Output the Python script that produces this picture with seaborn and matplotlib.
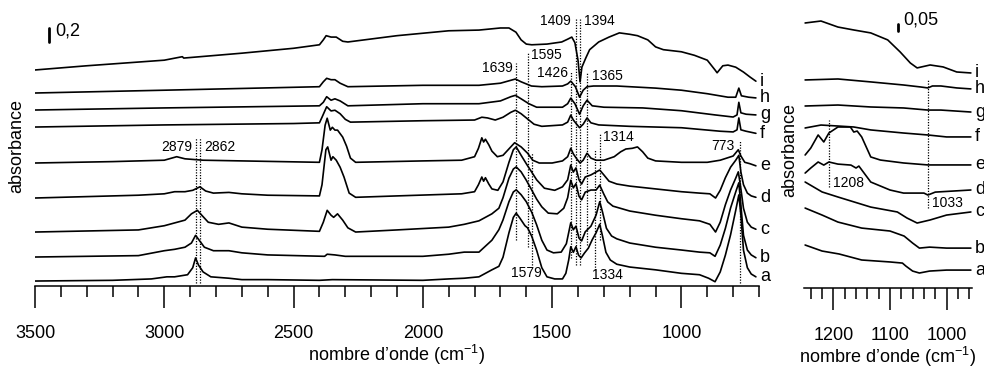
import numpy as np
import pandas as pd
import seaborn as sns
import matplotlib.pyplot as plt
from matplotlib.ticker import MultipleLocator

sns.set_theme(style="white")
plt.rcParams['font.family'] = ['Liberation Sans', 'DejaVu Sans']
plt.rcParams['mathtext.fontset'] = 'custom'
plt.rcParams['mathtext.rm'] = 'Liberation Sans'
plt.rcParams['text.color'] = 'black'
plt.rcParams['axes.labelcolor'] = 'black'
plt.rcParams['xtick.color'] = 'black'

names = list("abcdefghi")

# ---- full range spectra (absorbance, relative to the value at 3500 cm-1)
a_wn = [3500, 3200, 3050, 2990, 2960, 2910, 2890, 2879, 2868, 2850, 2820, 2750, 2700, 2600, 2400, 2350, 2000, 1900, 1840, 1783,
        1733, 1706, 1690, 1667, 1650, 1639, 1625, 1605, 1595, 1579, 1560, 1540, 1520, 1490, 1460, 1447, 1436, 1428, 1418, 1408,
        1398, 1388, 1375, 1360, 1345, 1330, 1316, 1305, 1292, 1275, 1250, 1200, 1100, 1000, 930, 895, 870, 850, 830, 810,
        790, 778, 770, 760, 745, 730, 712]
a_val = [0, 0.01, 0.03, 0.06, 0.06, 0.09, 0.19, 0.33, 0.23, 0.13, 0.06, 0.04, 0.02, 0.02, 0.01, 0.02, 0.01, 0.03, 0.04, 0.06,
         0.16, 0.21, 0.34, 0.69, 0.91, 0.97, 0.90, 0.79, 0.76, 0.64, 0.44, 0.19, 0.06, 0.03, 0.03, 0.11, 0.30, 0.49, 0.41, 0.49,
         0.37, 0.33, 0.40, 0.47, 0.59, 0.69, 0.81, 0.64, 0.41, 0.30, 0.24, 0.20, 0.16, 0.11, 0.09, 0.04, -0.01, 0.13, 0.37, 0.66,
         1.01, 1.23, 0.94, 0.44, 0.19, 0.10, 0.06]

b_wn = [3500, 3100, 3000, 2960, 2920, 2895, 2879, 2865, 2845, 2810, 2750, 2700, 2600, 2380, 2370, 2340, 2300, 2000, 1900, 1840,
        1783, 1733, 1706, 1690, 1667, 1650, 1639, 1620, 1600, 1579, 1560, 1540, 1520, 1495, 1465, 1445, 1428, 1418, 1408, 1396,
        1386, 1372, 1350, 1330, 1316, 1305, 1290, 1270, 1250, 1200, 1100, 1000, 930, 890, 870, 850, 830, 810, 790, 778,
        770, 760, 745, 730, 712]
b_val = [0, 0.02, 0.09, 0.11, 0.14, 0.20, 0.31, 0.24, 0.14, 0.09, 0.09, 0.06, 0.03, 0.01, 0.04, 0.03, 0.01, 0.01, 0.04, 0.07,
         0.07, 0.24, 0.39, 0.53, 0.79, 0.93, 0.96, 0.89, 0.79, 0.64, 0.46, 0.24, 0.10, 0.06, 0.07, 0.19, 0.49, 0.39, 0.44, 0.27,
         0.23, 0.36, 0.44, 0.60, 0.79, 0.64, 0.41, 0.30, 0.26, 0.20, 0.14, 0.10, 0.07, 0.06, 0.01, 0.17, 0.41, 0.70, 0.93, 1.06,
         0.74, 0.31, 0.10, 0.03, -0.01]

c_wn = [3500, 3100, 3000, 2960, 2920, 2895, 2872, 2855, 2830, 2790, 2750, 2700, 2600, 2400, 2385, 2370, 2355, 2345, 2330, 2310,
        2290, 2260, 2100, 1900, 1840, 1783, 1733, 1706, 1690, 1667, 1650, 1639, 1620, 1600, 1579, 1560, 1540, 1515, 1480, 1455,
        1440, 1428, 1418, 1408, 1396, 1386, 1372, 1350, 1330, 1316, 1300, 1285, 1265, 1200, 1100, 1000, 930, 890, 868, 850,
        830, 810, 790, 780, 772, 760, 745, 730, 712]
c_val = [0, 0.03, 0.09, 0.13, 0.17, 0.26, 0.31, 0.24, 0.14, 0.11, 0.13, 0.07, 0.04, 0.01, 0.14, 0.31, 0.24, 0.21, 0.26, 0.17,
         0.06, 0, 0.03, 0.07, 0.11, 0.16, 0.26, 0.34, 0.49, 0.77, 0.90, 0.93, 0.86, 0.74, 0.60, 0.47, 0.36, 0.27, 0.26, 0.34,
         0.49, 0.74, 0.63, 0.69, 0.51, 0.46, 0.57, 0.60, 0.60, 0.67, 0.54, 0.43, 0.37, 0.30, 0.24, 0.19, 0.16, 0.11, 0, 0.14,
         0.39, 0.60, 0.77, 0.86, 0.67, 0.34, 0.14, 0.07, 0.04]

d_wn = [3500, 3100, 3000, 2960, 2920, 2890, 2862, 2840, 2810, 2750, 2700, 2600, 2400, 2390, 2375, 2368, 2355, 2348, 2335, 2320,
        2305, 2285, 2260, 2100, 1850, 1800, 1785, 1772, 1765, 1758, 1745, 1733, 1710, 1690, 1667, 1650, 1639, 1620, 1600, 1579,
        1560, 1530, 1490, 1460, 1440, 1428, 1418, 1408, 1396, 1386, 1372, 1350, 1316, 1300, 1280, 1250, 1200, 1100, 1000, 930,
        890, 868, 850, 830, 810, 790, 778, 770, 760, 745, 730, 712]
d_val = [0, 0.04, 0.06, 0.09, 0.09, 0.11, 0.16, 0.10, 0.07, 0.08, 0.06, 0.04, 0.03, 0.19, 0.69, 0.73, 0.54, 0.59, 0.54, 0.44,
         0.30, 0.07, 0.01, 0.03, 0.06, 0.09, 0.19, 0.30, 0.24, 0.29, 0.20, 0.13, 0.11, 0.23, 0.51, 0.69, 0.73, 0.61, 0.49, 0.37,
         0.26, 0.14, 0.11, 0.16, 0.26, 0.47, 0.37, 0.43, 0.26, 0.20, 0.30, 0.33, 0.40, 0.33, 0.24, 0.20, 0.17, 0.13, 0.09, 0.07,
         0.06, 0, 0.11, 0.29, 0.44, 0.54, 0.61, 0.37, 0.19, 0.07, 0.03, 0.01]

e_wn = [3500, 3200, 3000, 2952, 2920, 2850, 2700, 2400, 2390, 2378, 2370, 2358, 2350, 2340, 2330, 2310, 2295, 2280, 2260, 2000,
        1850, 1800, 1785, 1772, 1765, 1758, 1745, 1733, 1712, 1690, 1665, 1645, 1620, 1595, 1575, 1550, 1500, 1460, 1440, 1428,
        1418, 1405, 1392, 1380, 1365, 1350, 1330, 1300, 1260, 1235, 1215, 1190, 1170, 1150, 1130, 1100, 1000, 900, 850, 800,
        780, 770, 755, 735, 712]
e_val = [0, 0.02, 0.04, 0.09, 0.06, 0.04, 0.03, 0.01, 0.19, 0.54, 0.64, 0.47, 0.51, 0.47, 0.47, 0.37, 0.24, 0.07, 0.01, 0.03,
         0.04, 0.09, 0.21, 0.36, 0.30, 0.34, 0.26, 0.17, 0.09, 0.11, 0.21, 0.29, 0.23, 0.14, 0.04, 0, 0, 0.03, 0.09, 0.21,
         0.13, 0.06, 0, 0.04, 0.14, 0.07, 0.04, 0.04, 0.09, 0.16, 0.20, 0.21, 0.23, 0.16, 0.07, 0.03, 0.01, 0.01, 0.04, 0.10,
         0.19, 0.10, 0.01, -0.01, -0.04]

f_wn = [3500, 3000, 2500, 2400, 2390, 2372, 2355, 2340, 2320, 2300, 2280, 2000, 1800, 1772, 1750, 1720, 1690, 1660, 1642, 1620,
        1600, 1570, 1540, 1460, 1440, 1428, 1418, 1405, 1394, 1380, 1365, 1350, 1320, 1200, 1000, 850, 800, 785, 778, 770,
        750, 712]
f_val = [0, 0.03, 0.05, 0.06, 0.14, 0.29, 0.23, 0.24, 0.19, 0.11, 0.07, 0.09, 0.10, 0.14, 0.13, 0.10, 0.14, 0.21, 0.24, 0.19,
         0.13, 0.04, 0.01, 0.03, 0.07, 0.17, 0.10, 0.04, -0.01, 0.04, 0.13, 0.06, 0.03, 0.01, -0.01, -0.06, -0.07, -0.04, 0.13, -0.04,
         -0.06, -0.09]

g_wn = [3500, 3000, 2400, 2385, 2372, 2355, 2340, 2320, 2290, 2000, 1783, 1700, 1660, 1642, 1620, 1590, 1560, 1460, 1440, 1428,
        1412, 1394, 1380, 1365, 1345, 1300, 1150, 1000, 870, 800, 785, 778, 770, 750, 712]
g_val = [0, 0.03, 0.06, 0.11, 0.19, 0.14, 0.16, 0.13, 0.06, 0.09, 0.09, 0.13, 0.19, 0.21, 0.16, 0.09, 0.04, 0.04, 0.09, 0.17,
         0.09, -0.06, 0.06, 0.14, 0.06, 0.04, 0.03, -0.01, -0.07, -0.10, -0.07, 0.11, -0.04, -0.06, -0.07]

h_wn = [3500, 3000, 2400, 2385, 2372, 2355, 2340, 2320, 2290, 2000, 1783, 1700, 1642, 1620, 1580, 1540, 1460, 1440, 1428, 1410,
        1394, 1380, 1365, 1340, 1250, 1100, 1000, 900, 820, 790, 778, 768, 740, 712]
h_val = [0, 0.04, 0.09, 0.16, 0.21, 0.19, 0.19, 0.14, 0.09, 0.11, 0.11, 0.14, 0.20, 0.16, 0.10, 0.09, 0.10, 0.13, 0.17, 0.09,
         -0.06, 0.04, 0.09, 0.10, 0.10, 0.07, 0.04, -0.01, -0.06, -0.06, 0.07, -0.04, -0.06, -0.07]

i_wn = [3500, 3300, 3000, 2930, 2925, 2700, 2500, 2400, 2385, 2374, 2355, 2335, 2310, 2290, 2100, 1900, 1783, 1700, 1667, 1640,
        1620, 1600, 1579, 1520, 1463, 1440, 1424, 1412, 1400, 1392, 1385, 1370, 1355, 1320, 1280, 1240, 1200, 1170, 1130, 1100,
        1070, 1000, 950, 900, 870, 862, 840, 820, 790, 760, 735, 712]
i_val = [0, 0.06, 0.14, 0.19, 0.17, 0.24, 0.31, 0.36, 0.43, 0.49, 0.47, 0.47, 0.41, 0.40, 0.49, 0.56, 0.57, 0.60, 0.60, 0.54,
         0.43, 0.37, 0.36, 0.37, 0.40, 0.44, 0.47, 0.39, 0.14, -0.17, 0.04, 0.17, 0.29, 0.40, 0.47, 0.53, 0.51, 0.49, 0.43, 0.33,
         0.29, 0.26, 0.21, 0.14, 0, -0.04, 0.06, 0.07, 0.04, -0.03, -0.10, -0.16]

# ---- zoom 1250-955 cm-1 (absorbance, relative to the value at 1250 cm-1)
za_wn = [1250, 1220, 1190, 1150, 1100, 1078, 1072, 1060, 1048, 1030, 1000, 957]
za_val = [0, -0.043, -0.064, -0.107, -0.121, -0.129, -0.15, -0.186, -0.2, -0.186, -0.179, -0.179]
zb_wn = [1250, 1220, 1192, 1150, 1100, 1075, 1060, 1048, 1030, 1000, 957]
zb_val = [0, -0.05, -0.1, -0.143, -0.164, -0.2, -0.25, -0.286, -0.279, -0.286, -0.286]
zc_wn = [1250, 1220, 1192, 1134, 1087, 1070, 1052, 1029, 1000, 957]
zc_val = [0, -0.071, -0.107, -0.179, -0.214, -0.257, -0.293, -0.271, -0.236, -0.214]
zd_wn = [1250, 1240, 1227, 1217, 1208, 1192, 1169, 1160, 1155, 1134, 1100, 1076, 1040, 1033, 1020, 957]
zd_val = [0, 0.036, 0.079, 0.057, 0.079, 0.064, 0.057, 0.036, 0.05, -0.064, -0.121, -0.143, -0.143, -0.157, -0.136, -0.121]
ze_wn = [1250, 1240, 1227, 1217, 1208, 1192, 1170, 1164, 1158, 1150, 1134, 1117, 1076, 1033, 957]
ze_val = [0, 0.05, 0.143, 0.093, 0.157, 0.2, 0.2, 0.164, 0.171, 0.129, -0.014, -0.036, -0.057, -0.071, -0.071]
zf_wn = [1250, 1222, 1192, 1164, 1134, 1076, 1033, 1000, 957]
zf_val = [0, 0.021, 0.014, 0.007, -0.014, -0.036, -0.05, -0.064, -0.064]
zg_wn = [1250, 1192, 1134, 1076, 1033, 1010, 957]
zg_val = [0, 0.007, -0.007, -0.014, -0.029, -0.029, -0.043]
zh_wn = [1250, 1192, 1134, 1076, 1046, 1033, 1025, 1010, 982, 957]
zh_val = [0, 0.007, -0.014, -0.036, -0.05, -0.057, -0.043, -0.043, -0.057, -0.064]
zi_wn = [1250, 1222, 1192, 1164, 1134, 1104, 1082, 1064, 1052, 1029, 1006, 982, 957]
zi_val = [0, 0.014, -0.029, -0.05, -0.071, -0.121, -0.207, -0.286, -0.321, -0.3, -0.314, -0.35, -0.357]

# band markers
full_marks = [2879, 2862, 1639, 1595, 1579, 1426, 1409, 1394, 1365, 1334, 1314, 773]
zoom_marks = [1208, 1033]

# ---- layout (vertical stacking offsets, annotation placement)
full_offset = [0.071, 0.414, 0.771, 1.257, 1.757, 2.271, 2.514, 2.757, 3.086]
zoom_offset = [0.307, 0.571, 0.757, 0.821, 0.95, 1.143, 1.3, 1.486, 1.893]
full_mark_span = [(2.114, 0.043), (2.114, 0.043), (3.186, 0.657), (3.343, 0.557), (1.9, 0.3), (3.057, 0.4),
                  (3.829, 0.3), (3.829, 0.3), (3.043, 0.586), (1.943, 0.229), (2.186, 0.657), (2.086, 0.043)]
full_mark_text = [(2893, 1.986, 'right'), (2847, 1.986, 'left'), (1652, 3.114, 'right'), (1582, 3.30, 'left'),
                  (1601, 0.186, 'center'), (1438, 3.043, 'right'), (1428, 3.786, 'right'), (1375, 3.786, 'left'),
                  (1346, 3.0, 'left'), (1288, 0.157, 'center'), (1304, 2.129, 'left'), (793, 2.0, 'right')]
zoom_mark_span = [(1.2, 0.72), (1.486, 0.571)]
zoom_mark_text = [(1201, 0.75, 'left'), (1025, 0.607, 'left')]

full_curves = [(a_wn, a_val), (b_wn, b_val), (c_wn, c_val), (d_wn, d_val), (e_wn, e_val),
               (f_wn, f_val), (g_wn, g_val), (h_wn, h_val), (i_wn, i_val)]
zoom_curves = [(za_wn, za_val), (zb_wn, zb_val), (zc_wn, zc_val), (zd_wn, zd_val), (ze_wn, ze_val),
               (zf_wn, zf_val), (zg_wn, zg_val), (zh_wn, zh_val), (zi_wn, zi_val)]


def stack(curves, offsets):
    frames = []
    for name, (wn, val), off in zip(names, curves, offsets):
        frames.append(pd.DataFrame({'wn': wn, 'absorbance': np.array(val) + off, 'spectrum': name}))
    return pd.concat(frames, ignore_index=True)


df_full = stack(full_curves, full_offset)
df_zoom = stack(zoom_curves, zoom_offset)

W, H = 984, 369
fig = plt.figure(figsize=(W / 100, H / 100), dpi=100)
ax1 = fig.add_axes([35 / W, 1 - 286 / H, 724 / W, 286 / H])
ax2 = fig.add_axes([804 / W, 1 - 288 / H, 168 / W, 288 / H])

dots = (0, (1, 1.2))
for ax, df in [(ax1, df_full), (ax2, df_zoom)]:
    sns.lineplot(data=df, x='wn', y='absorbance', units='spectrum', estimator=None, sort=False,
                 color='black', lw=1.2, ax=ax, legend=False)
    for s in ['left', 'top', 'right']:
        ax.spines[s].set_visible(False)
    ax.spines['bottom'].set_linewidth(1.1)
    ax.spines['bottom'].set_color('black')
    ax.set_yticks([])
    ax.set_ylabel('')
    ax.set_xlabel('nombre d’onde (cm$^{-1}$)', fontsize=13, labelpad=1)
    ax.tick_params(axis='x', which='major', direction='out', length=16, width=1.1, colors='black',
                   labelsize=13, pad=12, bottom=True)
    ax.tick_params(axis='x', which='minor', direction='out', length=8, width=1.1, colors='black', bottom=True)
    ax.set_facecolor('none')
    # curve labels at the right end
    for name in names:
        sub = df[df.spectrum == name]
        last = sub.iloc[-1]
        ax.annotate(name, xy=(last.wn, last.absorbance), xytext=(3, 0), textcoords='offset points',
                    ha='left', va='center', fontsize=13, color='black', annotation_clip=False)

ax1.set_xlim(3500, 700)
ax1.set_ylim(0, 286 / 70)
ax1.xaxis.set_major_locator(MultipleLocator(500))
ax1.xaxis.set_minor_locator(MultipleLocator(100))

ax2.set_xlim(1252, 955)
ax2.set_ylim(0, 288 / 140)
ax2.xaxis.set_major_locator(MultipleLocator(100))
ax2.xaxis.set_minor_locator(MultipleLocator(20))

for wn, (top, bot), (tx, ty, ha) in zip(full_marks, full_mark_span, full_mark_text):
    ax1.plot([wn, wn], [bot, top], color='black', lw=0.9, ls=dots)
    ax1.text(tx, ty, str(wn), ha=ha, va='center', fontsize=10, color='black')
for wn, (top, bot), (tx, ty, ha) in zip(zoom_marks, zoom_mark_span, zoom_mark_text):
    ax2.plot([wn, wn], [bot, top], color='black', lw=0.9, ls=dots)
    ax2.text(tx, ty, str(wn), ha=ha, va='center', fontsize=10, color='black')

# scale bars
ax1.plot([3446, 3446], [3.486, 3.686], color='black', lw=2)
ax1.text(3423, 3.636, '0,2', ha='left', va='center', fontsize=13, color='black')
ax2.plot([1085, 1085], [1.836, 1.886], color='black', lw=2)
ax2.text(1076, 1.914, '0,05', ha='left', va='center', fontsize=13, color='black')

fig.text(17 / W, 1 - 146 / H, 'absorbance', rotation=90, ha='center', va='center', fontsize=13, color='black')
fig.text(790 / W, 1 - 150 / H, 'absorbance', rotation=90, ha='center', va='center', fontsize=13, color='black')

fig.savefig('out.png', dpi=100)
